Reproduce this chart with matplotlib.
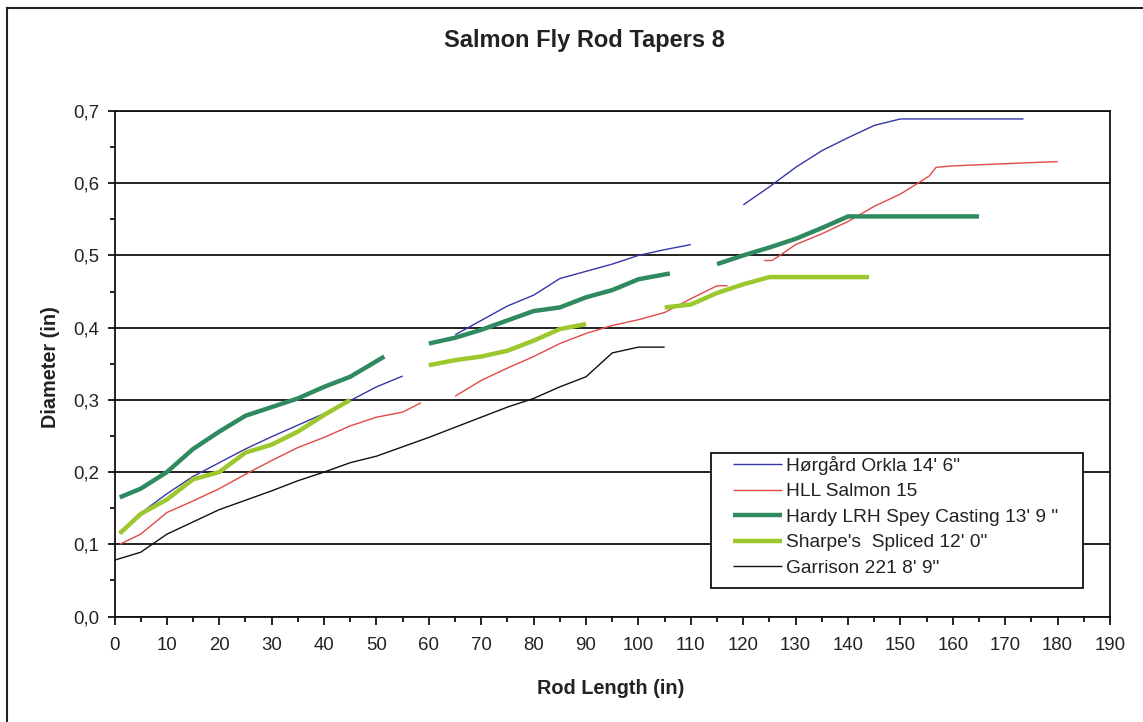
import numpy as np
import matplotlib
matplotlib.use("Agg")
import matplotlib.pyplot as plt
from matplotlib import font_manager
from matplotlib.lines import Line2D
from matplotlib.patches import Rectangle
from matplotlib.ticker import MultipleLocator, FuncFormatter

nan = np.nan

# Taper measurements: rod length (in) vs diameter (in); NaN separates the rod sections
horgard_x = [1, 5, 10, 15, 20, 25, 30, 35, 40, 45, 50, 55, nan,
             65, 70, 75, 80, 85, 90, 95, 100, 105, 110, nan,
             120, 125, 130, 135, 140, 145, 150, 173.5]
horgard_y = [0.115, 0.143, 0.170, 0.194, 0.213, 0.232, 0.249, 0.265, 0.281, 0.299, 0.318, 0.333, nan,
             0.390, 0.410, 0.430, 0.445, 0.468, 0.478, 0.488, 0.500, 0.508, 0.515, nan,
             0.570, 0.595, 0.622, 0.645, 0.663, 0.680, 0.689, 0.689]

hll_x = [1, 5, 10, 15, 20, 25, 30, 35, 40, 45, 50, 55, 58.5, nan,
         65, 70, 75, 80, 85, 90, 95, 100, 105, 110, 115, 117, nan,
         124, 125.5, 127, 130, 135, 140, 145, 150, 154, 155.5, 156.8, 160, 170, 180]
hll_y = [0.100, 0.114, 0.144, 0.160, 0.177, 0.197, 0.216, 0.234, 0.248, 0.264, 0.276, 0.283, 0.296, nan,
         0.305, 0.327, 0.344, 0.360, 0.378, 0.392, 0.403, 0.411, 0.421, 0.440, 0.458, 0.458, nan,
         0.493, 0.493, 0.500, 0.515, 0.530, 0.547, 0.568, 0.585, 0.603, 0.610, 0.622, 0.624, 0.627, 0.630]

hardy_x = [1, 5, 10, 15, 20, 25, 30, 35, 40, 45, 51.5, nan,
           60, 65, 70, 75, 80, 85, 90, 95, 100, 106, nan,
           115, 120, 125, 130, 135, 140, 165]
hardy_y = [0.165, 0.177, 0.200, 0.232, 0.256, 0.278, 0.290, 0.302, 0.318, 0.332, 0.360, nan,
           0.378, 0.386, 0.397, 0.410, 0.423, 0.428, 0.442, 0.452, 0.467, 0.475, nan,
           0.488, 0.500, 0.511, 0.523, 0.538, 0.554, 0.554]

sharpe_x = [1, 5, 10, 15, 20, 25, 30, 35, 40, 45, nan,
            60, 65, 70, 75, 80, 85, 90, nan,
            105, 110, 115, 120, 125, 144]
sharpe_y = [0.115, 0.142, 0.162, 0.190, 0.200, 0.227, 0.238, 0.256, 0.279, 0.300, nan,
            0.348, 0.355, 0.360, 0.368, 0.382, 0.398, 0.405, nan,
            0.428, 0.432, 0.448, 0.460, 0.470, 0.470]

garrison_x = [0, 5, 10, 15, 20, 25, 30, 35, 40, 45, 50, 55, 60, 65, 70, 75, 80, 85, 90, 95, 100, 105]
garrison_y = [0.078, 0.089, 0.114, 0.131, 0.148, 0.161, 0.174, 0.188, 0.200, 0.213, 0.222, 0.235,
              0.248, 0.262, 0.276, 0.290, 0.302, 0.318, 0.332, 0.365, 0.373, 0.373]

series_labels = ["Hørgård Orkla 14' 6\"", "HLL Salmon 15", "Hardy LRH Spey Casting 13' 9 \"",
                 "Sharpe's  Spliced 12' 0\"", "Garrison 221 8' 9\""]

# ---------------------------------------------------------------- fonts
available = {f.name for f in font_manager.fontManager.ttflist}
base_font = "Liberation Sans" if "Liberation Sans" in available else "DejaVu Sans"
plt.rcParams["font.family"] = [base_font, "DejaVu Sans"]

W, H = 1143, 722
fig = plt.figure(figsize=(W / 100, H / 100), dpi=100)
fig.patch.set_facecolor("white")

ax = fig.add_axes([114.5 / W, 1 - 616.5 / H, (1110 - 114.5) / W, (616.5 - 111) / H])

line_specs = [
    (horgard_x, horgard_y, "#3636a8", 1.0),
    (hll_x, hll_y, "#e34848", 1.0),
    (hardy_x, hardy_y, "#2f8a60", 3.2),
    (sharpe_x, sharpe_y, "#9cc82e", 3.2),
    (garrison_x, garrison_y, "#111111", 1.0),
]
handles = []
for (xs, ys, color, lw), label in zip(line_specs, series_labels):
    h, = ax.plot(xs, ys, color=color, lw=lw, label=label, zorder=3,
                 solid_joinstyle="round", solid_capstyle="butt")
    handles.append(h)

ax.set_xlim(0, 190)
ax.set_ylim(0, 0.7)
ax.xaxis.set_major_locator(MultipleLocator(10))
ax.xaxis.set_minor_locator(MultipleLocator(5))
ax.yaxis.set_major_locator(MultipleLocator(0.1))
ax.yaxis.set_minor_locator(MultipleLocator(0.05))
ax.yaxis.set_major_formatter(FuncFormatter(lambda v, p: f"{v:.1f}".replace(".", ",")))
ax.xaxis.set_major_formatter(FuncFormatter(lambda v, p: f"{v:.0f}"))

ax.grid(axis="y", which="major", color="#111111", lw=1.3, zorder=1)
ax.set_axisbelow(True)
for s in ax.spines.values():
    s.set_color("#111111")
    s.set_linewidth(1.3)

ax.tick_params(axis="both", which="major", direction="out", color="#111111",
               width=1.3, labelsize=13.4, labelcolor="#222222")
ax.tick_params(axis="x", which="major", length=6, pad=8.5)
ax.tick_params(axis="y", which="major", length=5, pad=6)
ax.tick_params(axis="both", which="minor", direction="out", color="#111111",
               width=1.3, length=3.5)

# legend: framed box with the entries laid out inside it
ax.add_patch(Rectangle(((710.7 - 114.5) / 995.5, (616.5 - 587.7) / 505.5),
                       (1083 - 710.7) / 995.5, (587.7 - 452.7) / 505.5,
                       transform=ax.transAxes, facecolor="white", edgecolor="#111111",
                       lw=1.3, zorder=4))
leg = ax.legend(handles=handles, loc="upper left",
                bbox_to_anchor=(733 / W, 1 - 456 / H), bbox_transform=fig.transFigure,
                frameon=False, borderpad=0, borderaxespad=0, handlelength=2.55,
                handletextpad=0.22, labelspacing=0.42,
                prop={"family": base_font, "size": 13.8})
leg.set_zorder(5)
for t in leg.get_texts():
    t.set_color("#222222")

# titles
fig.text(584 / W, 1 - 40 / H, "Salmon Fly Rod Tapers 8", ha="center", va="center",
         fontsize=17, fontweight="bold", color="#222222")
fig.text(611 / W, 1 - 688 / H, "Rod Length (in)", ha="center", va="center",
         fontsize=14.3, fontweight="bold", color="#222222")
fig.text(50 / W, 1 - 367 / H, "Diameter (in)", ha="center", va="center", rotation=90,
         fontsize=14.3, fontweight="bold", color="#222222")

# outer chart frame (left and top edges)
fig.add_artist(Line2D([7 / W, 7 / W], [0, 1 - 8 / H], transform=fig.transFigure,
                      color="#222222", lw=1.5))
fig.add_artist(Line2D([7 / W, 1], [1 - 8 / H, 1 - 8 / H], transform=fig.transFigure,
                      color="#222222", lw=1.5))

fig.savefig("out.png", dpi=100, facecolor="white")
